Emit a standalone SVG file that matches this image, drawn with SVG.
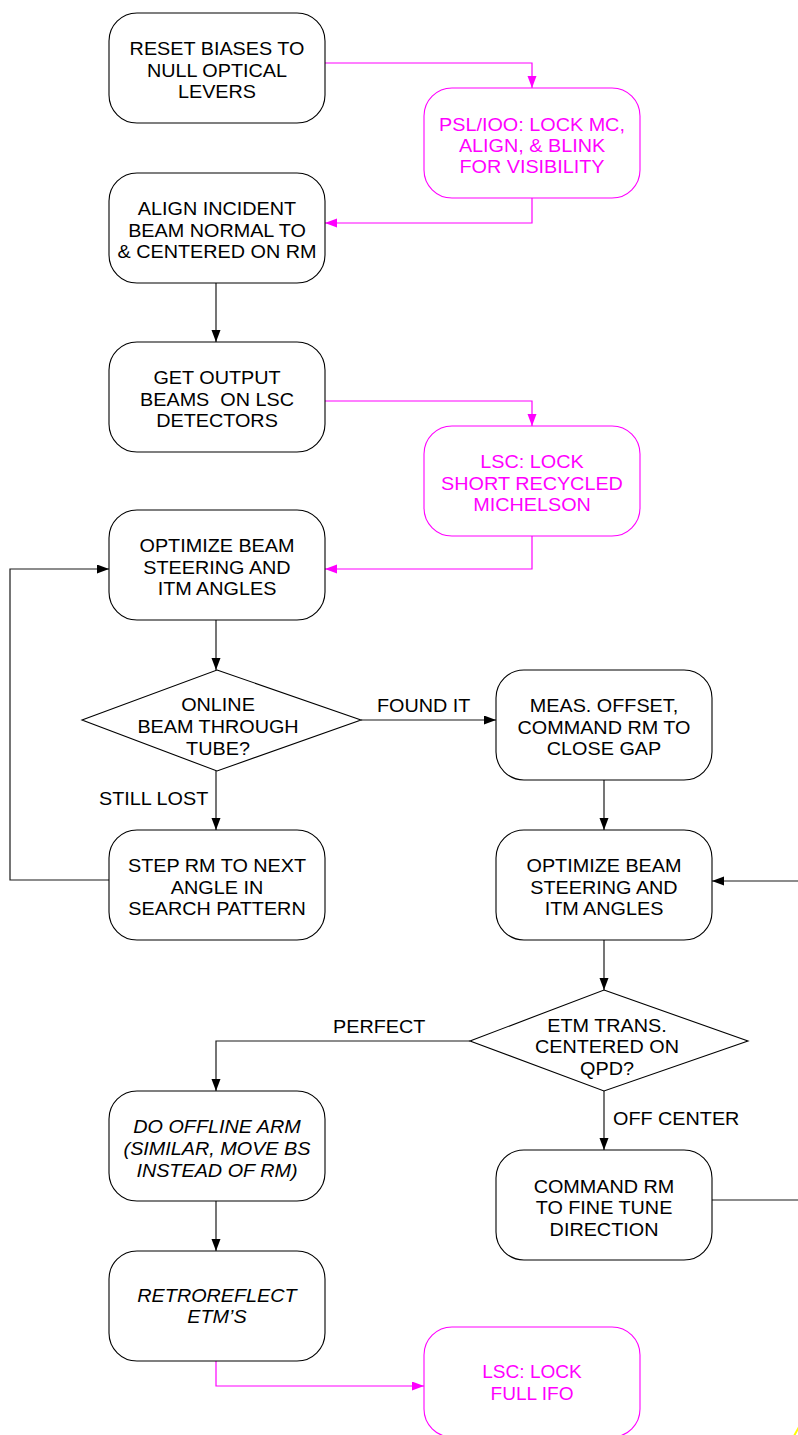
<svg xmlns="http://www.w3.org/2000/svg" width="798" height="1435" viewBox="0 0 798 1435">
  <style>
    .box { fill: #ffffff; stroke: #000000; stroke-width: 1.1; }
    .mbox { fill: #ffffff; stroke: #ff00ff; stroke-width: 1.1; }
    .dia { fill: #ffffff; stroke: #000000; stroke-width: 1.1; }
    .t { font-family: "Liberation Sans", Arial, sans-serif; font-size: 18px; text-anchor: middle; fill: #000000; }
    .m { fill: #ff00ff; }
    .it { font-style: italic; }
    .lbl { font-family: "Liberation Sans", Arial, sans-serif; font-size: 18px; fill: #000000; }
    .wire { fill: none; stroke: #1a1a1a; stroke-width: 1.2; marker-end: url(#ah); }
    .mwire { fill: none; stroke: #ff00ff; stroke-width: 1.2; marker-end: url(#mah); }
    .plain { marker-end: none; }
  </style>
  <defs>
    <marker id="ah" markerUnits="userSpaceOnUse" markerWidth="13" markerHeight="10" refX="12" refY="4.5" orient="auto">
      <path d="M0,0 L12,4.5 L0,9 Z" fill="#000000"/>
    </marker>
    <marker id="mah" markerUnits="userSpaceOnUse" markerWidth="13" markerHeight="10" refX="12" refY="4.5" orient="auto">
      <path d="M0,0 L12,4.5 L0,9 Z" fill="#ff00ff"/>
    </marker>
  </defs>

  <rect width="798" height="1435" fill="#ffffff"/>

  <!-- connectors -->
  <g id="connectors">
    <path class="mwire" d="M325,63 H532 V88"/>
    <path class="mwire" d="M532,198 V223 H325"/>
    <path class="wire" d="M216,283 V342"/>
    <path class="mwire" d="M325,401 H532 V426"/>
    <path class="mwire" d="M532,536 V569 H325"/>
    <path class="wire" d="M216,620 V670"/>
    <path class="wire" d="M361,720 H496"/>
    <path class="wire" d="M216,771 V830"/>
    <path class="wire" d="M109,880 H10 V569 H109"/>
    <path class="wire" d="M604,780 V830"/>
    <path class="wire" d="M604,940 V990"/>
    <path class="wire" d="M470,1041 H216 V1091"/>
    <path class="wire" d="M604,1091 V1150"/>
    <path class="wire" d="M712,1200 H805 V881 H712"/>
    <path class="wire" d="M216,1201 V1251"/>
    <path class="mwire" d="M216,1361 V1386 H424"/>
    <text class="lbl" transform="translate(377 0) scale(1.1 1)" x="0" y="712">FOUND IT</text>
    <text class="lbl" transform="translate(99 0) scale(1.1 1)" x="0" y="805">STILL LOST</text>
    <text class="lbl" transform="translate(333 0) scale(1.1 1)" x="0" y="1033">PERFECT</text>
    <text class="lbl" transform="translate(613 0) scale(1.1 1)" x="0" y="1125">OFF CENTER</text>
  </g>

  <g id="reset-biases">
    <rect class="box" x="109" y="13" width="216" height="110" rx="28" ry="28"/>
    <g transform="translate(217 0) scale(1.1 1)">
      <text class="t" x="0" y="55">RESET BIASES TO</text>
      <text class="t" x="0" y="77">NULL OPTICAL</text>
      <text class="t" x="0" y="98.5">LEVERS</text>
    </g>
  </g>

  <g id="psl-ioo-lock">
    <rect class="mbox" x="424" y="88" width="216" height="110" rx="28" ry="28"/>
    <g transform="translate(532 0) scale(1.1 1)">
      <text class="t m" x="0" y="131">PSL/IOO: LOCK MC,</text>
      <text class="t m" x="0" y="152.5">ALIGN, &amp; BLINK</text>
      <text class="t m" x="0" y="173.5">FOR VISIBILITY</text>
    </g>
  </g>

  <g id="align-incident">
    <rect class="box" x="109" y="173" width="216" height="110" rx="28" ry="28"/>
    <g transform="translate(217 0) scale(1.1 1)">
      <text class="t" x="0" y="215">ALIGN INCIDENT</text>
      <text class="t" x="0" y="237">BEAM NORMAL TO</text>
      <text class="t" x="0" y="258.5">&amp; CENTERED ON RM</text>
    </g>
  </g>

  <g id="get-output-beams">
    <rect class="box" x="109" y="342" width="216" height="110" rx="28" ry="28"/>
    <g transform="translate(217 0) scale(1.1 1)">
      <text class="t" x="0" y="384.5" xml:space="preserve">GET OUTPUT</text>
      <text class="t" x="0" y="406" xml:space="preserve">BEAMS  ON LSC</text>
      <text class="t" x="0" y="427.5">DETECTORS</text>
    </g>
  </g>

  <g id="lsc-lock-srm">
    <rect class="mbox" x="424" y="426" width="216" height="110" rx="28" ry="28"/>
    <g transform="translate(532 0) scale(1.1 1)">
      <text class="t m" x="0" y="468">LSC: LOCK</text>
      <text class="t m" x="0" y="490">SHORT RECYCLED</text>
      <text class="t m" x="0" y="511.5">MICHELSON</text>
    </g>
  </g>

  <g id="optimize-left">
    <rect class="box" x="109" y="510" width="216" height="110" rx="28" ry="28"/>
    <g transform="translate(217 0) scale(1.1 1)">
      <text class="t" x="0" y="552.5">OPTIMIZE BEAM</text>
      <text class="t" x="0" y="574">STEERING AND</text>
      <text class="t" x="0" y="595.5">ITM ANGLES</text>
    </g>
  </g>

  <g id="online-beam-decision">
    <polygon class="dia" points="217,670 361,720 217,771 82,720"/>
    <g transform="translate(218 0) scale(1.1 1)">
      <text class="t" x="0" y="711">ONLINE</text>
      <text class="t" x="0" y="733">BEAM THROUGH</text>
      <text class="t" x="0" y="755">TUBE?</text>
    </g>
  </g>

  <g id="measure-offset">
    <rect class="box" x="496" y="670" width="216" height="110" rx="28" ry="28"/>
    <g transform="translate(604 0) scale(1.1 1)">
      <text class="t" x="0" y="712.5">MEAS. OFFSET,</text>
      <text class="t" x="0" y="734">COMMAND RM TO</text>
      <text class="t" x="0" y="755.5">CLOSE GAP</text>
    </g>
  </g>

  <g id="step-rm">
    <rect class="box" x="109" y="830" width="216" height="110" rx="28" ry="28"/>
    <g transform="translate(217 0) scale(1.1 1)">
      <text class="t" x="0" y="872.5">STEP RM TO NEXT</text>
      <text class="t" x="0" y="894">ANGLE IN</text>
      <text class="t" x="0" y="915.5">SEARCH PATTERN</text>
    </g>
  </g>

  <g id="optimize-right">
    <rect class="box" x="496" y="830" width="216" height="110" rx="28" ry="28"/>
    <g transform="translate(604 0) scale(1.1 1)">
      <text class="t" x="0" y="872.5">OPTIMIZE BEAM</text>
      <text class="t" x="0" y="894">STEERING AND</text>
      <text class="t" x="0" y="915.5">ITM ANGLES</text>
    </g>
  </g>

  <g id="etm-trans-decision">
    <polygon class="dia" points="604,990 748,1041 604,1091 470,1041"/>
    <g transform="translate(607 0) scale(1.1 1)">
      <text class="t" x="0" y="1032">ETM TRANS.</text>
      <text class="t" x="0" y="1053.5">CENTERED ON</text>
      <text class="t" x="0" y="1075">QPD?</text>
    </g>
  </g>

  <g id="offline-arm">
    <rect class="box" x="109" y="1091" width="216" height="110" rx="28" ry="28"/>
    <g transform="translate(217 0) scale(1.1 1)">
      <text class="t it" x="0" y="1133.5">DO OFFLINE ARM</text>
      <text class="t it" x="0" y="1155.5">(SIMILAR, MOVE BS</text>
      <text class="t it" x="0" y="1177">INSTEAD OF RM)</text>
    </g>
  </g>

  <g id="command-rm">
    <rect class="box" x="496" y="1150" width="216" height="110" rx="28" ry="28"/>
    <g transform="translate(604 0) scale(1.1 1)">
      <text class="t" x="0" y="1193">COMMAND RM</text>
      <text class="t" x="0" y="1214.5">TO FINE TUNE</text>
      <text class="t" x="0" y="1236">DIRECTION</text>
    </g>
  </g>

  <g id="retroreflect">
    <rect class="box" x="109" y="1251" width="216" height="110" rx="28" ry="28"/>
    <g transform="translate(217 0) scale(1.1 1)">
      <text class="t it" x="0" y="1302.5">RETROREFLECT</text>
      <text class="t it" x="0" y="1323.5">ETM’S</text>
    </g>
  </g>

  <g id="lsc-lock-full">
    <rect class="mbox" x="424" y="1327" width="216" height="110" rx="28" ry="28"/>
    <g transform="translate(532 0) scale(1.06 1)">
      <text class="t m" x="0" y="1378.5">LSC: LOCK</text>
      <text class="t m" x="0" y="1400">FULL IFO</text>
    </g>
  </g>

  <!-- stray highlighter stroke at the sheet corner -->
  <path d="M794,1436 L799,1427" stroke="#ffff00" stroke-width="2" fill="none"/>
</svg>
